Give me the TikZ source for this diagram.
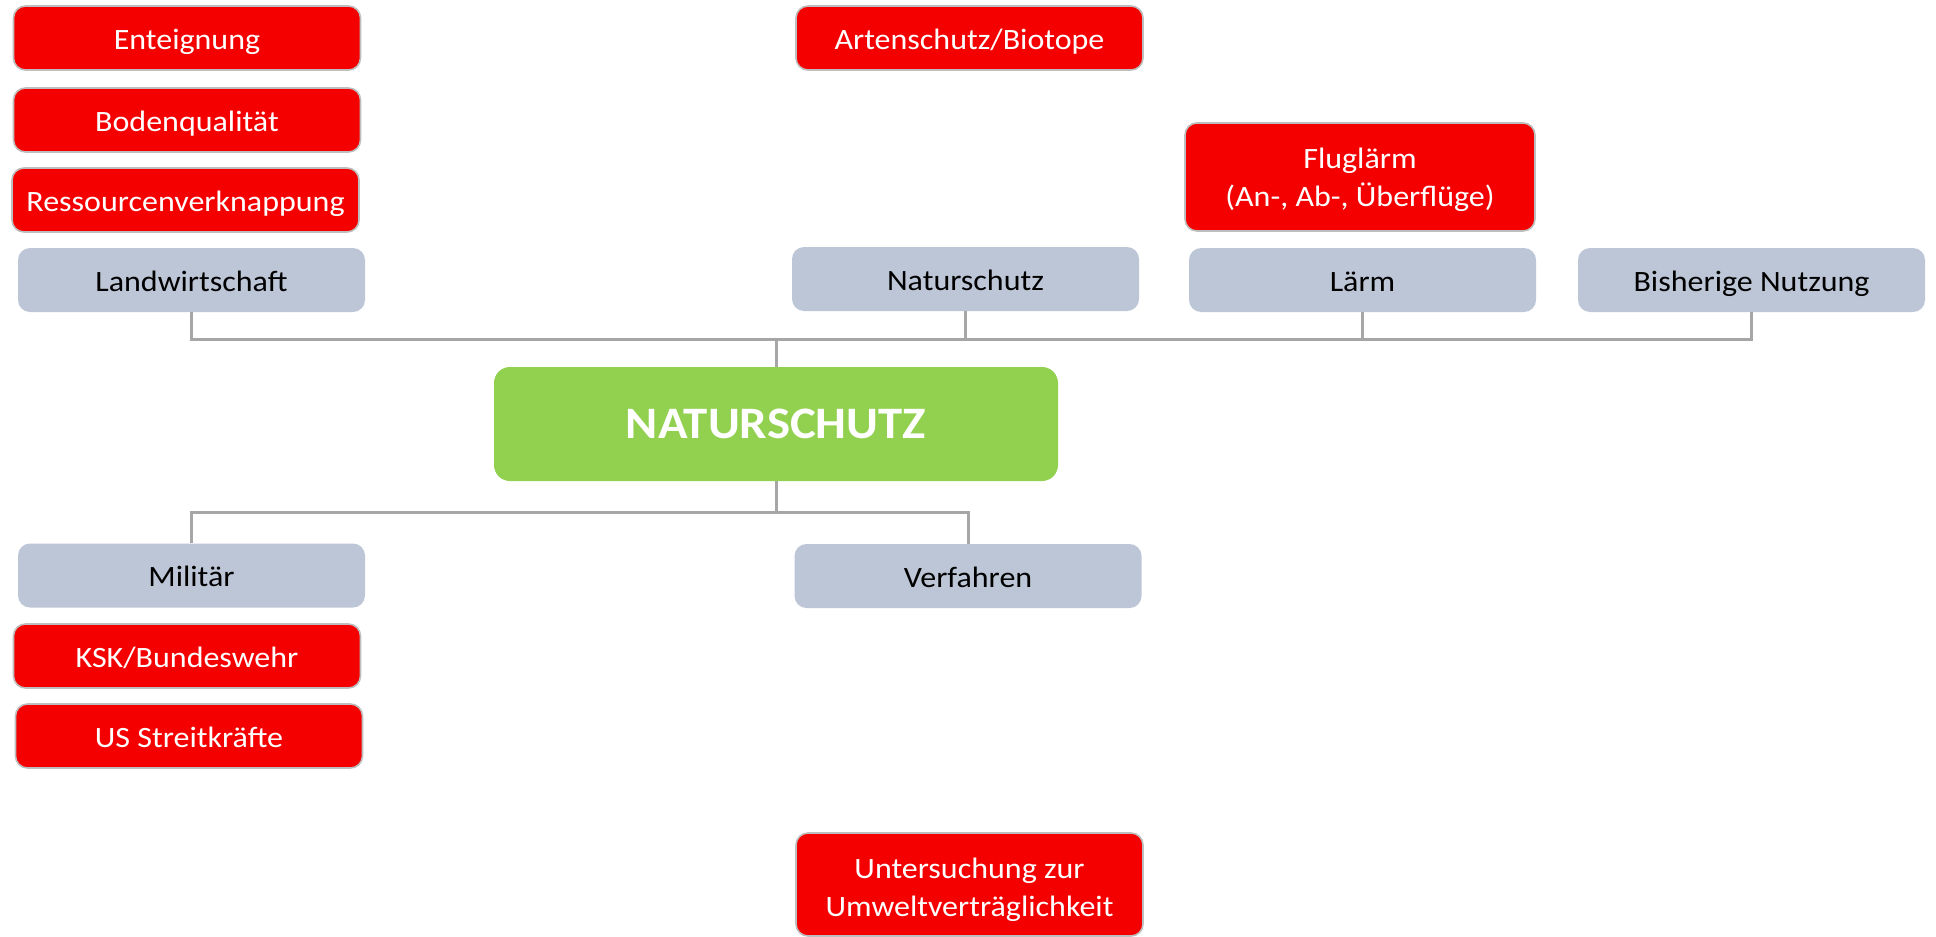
\documentclass[tikz,border=0pt]{standalone}
\usepackage{fontspec}
\setmainfont{Carlito}[FakeStretch=1.085]
\definecolor{issuered}{RGB}{245,0,0}
\definecolor{issueedge}{RGB}{190,190,190}
\definecolor{topicgray}{RGB}{189,198,214}
\definecolor{hubgreen}{RGB}{146,208,80}
\definecolor{linkgray}{RGB}{166,166,166}
\tikzset{
  boxbase/.style={rectangle, inner sep=0pt, align=center,
    text height=22pt, text depth=0pt,
    font=\fontsize{29.5}{38}\selectfont},
  % two-line nodes: the box baseline sits on the last line
  twoline/.style={text height=#1, text depth=0pt},
  issue/.style={boxbase, fill=issuered, draw=issueedge, line width=1.6pt,
    rounded corners=12pt, text=white, minimum width=347pt, minimum height=64pt},
  topic/.style={boxbase, fill=topicgray, rounded corners=12pt, text=black,
    minimum width=347pt, minimum height=64pt},
  hubbox/.style={boxbase, fill=hubgreen, rounded corners=16pt, text=white,
    minimum width=564pt, minimum height=114pt,
    text height=28pt, text depth=0pt,
    font=\fontsize{45}{50}\selectfont\bfseries},
  conn/.style={draw=linkgray, line width=3pt}
}
\begin{document}
\begin{tikzpicture}[x=1pt,y=-1pt]
\useasboundingbox[fill=white] (0,0) rectangle (1936,937);

% central topic
\node[hubbox] (hub) at (776,424) {NATURSCHUTZ};

% bus levels above and below the central topic
\coordinate (topbus) at (776,339);
\coordinate (botbus) at (776,512);

% upper topics
\node[topic] (landw) at (191.5,280) {Landwirtschaft};
\node[topic] (natur) at (965.5,279) {Naturschutz};
\node[topic] (laerm) at (1362.5,280) {Lärm};
\node[topic] (bisher) at (1751.5,280) {Bisherige Nutzung};

% lower topics
\node[topic] (milit) at (191.5,575.5) {Militär};
\node[topic] (verf) at (968,576) {Verfahren};

% issues
\node[issue] (enteig) at (187,38) {Enteignung};
\node[issue] (boden) at (187,120) {Bodenqualität};
\node[issue] (ressou) at (185.5,200) {Ressourcenverknappung};
\node[issue] (arten) at (969.5,38) {Artenschutz/Biotope};
\node[issue, twoline=58pt, minimum width=350pt, minimum height=108pt] (flug) at (1360,177)
  {Fluglärm\\(An-, Ab-, Überflüge)};
\node[issue] (ksk) at (187,656) {KSK/Bundeswehr};
\node[issue] (usst) at (189,736) {US Streitkräfte};
\node[issue, twoline=64pt, minimum height=103pt] (uvp) at (969.5,884.5)
  {Untersuchung zur\\Umweltverträglichkeit};

% connectors
\foreach \t in {landw,natur,laerm,bisher}
  \draw[conn] (hub.north) -- (hub.north |- topbus) -| (\t.south);
\foreach \t in {milit,verf}
  \draw[conn] (hub.south) -- (hub.south |- botbus) -| (\t.north);
\end{tikzpicture}
\end{document}
